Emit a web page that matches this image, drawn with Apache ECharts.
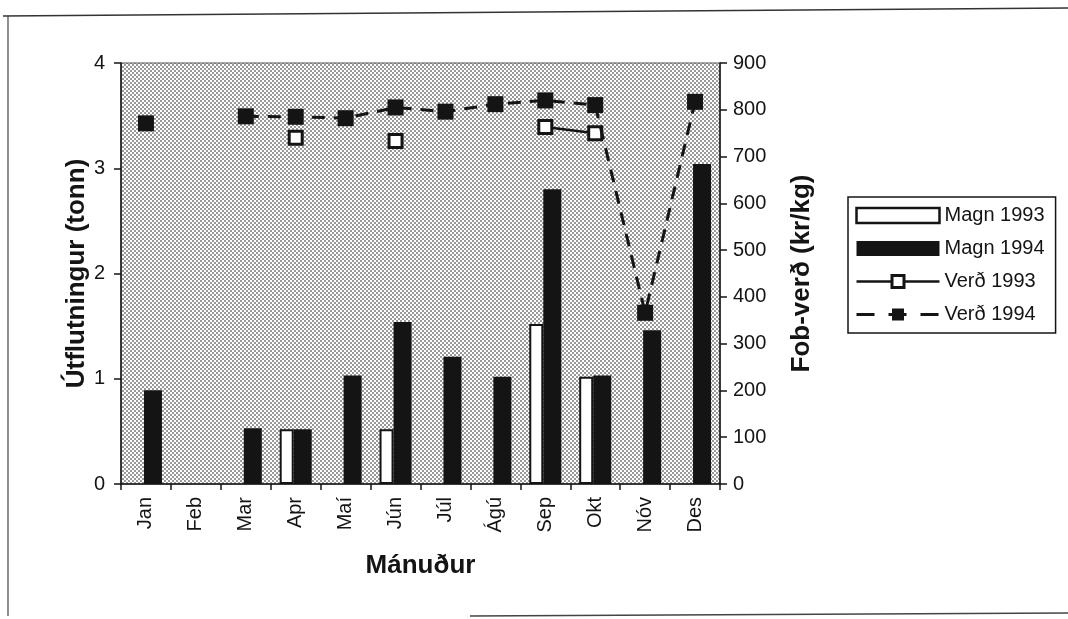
<!DOCTYPE html>
<html><head><meta charset="utf-8">
<script src="https://cdn.jsdelivr.net/npm/echarts@6/dist/echarts.min.js"></script>
<style>html,body{margin:0;padding:0;background:#fff}#c{width:1068px;height:619px}</style>
</head><body><div id="c"></div>
<script>
// ---- data ----
const months   = ['Jan','Feb','Mar','Apr','Maí','Jún','Júl','Ágú','Sep','Okt','Nóv','Des'];
const magn1993 = [null, null, null, 0.52, null, 0.52, null, null, 1.52, 1.02, null, null];   // tonn
const magn1994 = [0.89, null, 0.53, 0.52, 1.03, 1.54, 1.21, 1.02, 2.80, 1.03, 1.46, 3.04];   // tonn
const verd1993 = [null, null, null, 740, null, 733, null, null, 763, 750, null, null];       // kr/kg
const verd1994 = [771, null, 786, 785, 782, 805, 796, 812, 820, 810, 366, 817];              // kr/kg
const leftTicks  = [0, 1, 2, 3, 4];
const rightTicks = [0, 100, 200, 300, 400, 500, 600, 700, 800, 900];

const FONT = 'Liberation Sans, Arial, Helvetica, sans-serif';
const INK = '#141414';

// stipple pattern for the plot background
const pc = document.createElement('canvas');
pc.width = 4; pc.height = 4;
const px = pc.getContext('2d');
px.fillStyle = '#ffffff'; px.fillRect(0, 0, 4, 4);
px.fillStyle = '#999999';
px.fillRect(0, 0, 2, 2); px.fillRect(2, 2, 2, 2);

const nameStyle = {fontFamily: FONT, fontSize: 26, fontWeight: 'bold', color: INK};
const labelStyle = {fontFamily: FONT, fontSize: 20, color: INK};

const chart = echarts.init(document.getElementById('c'), null, {renderer: 'canvas'});
chart.setOption({
  animation: false,
  backgroundColor: '#fff',
  textStyle: {fontFamily: FONT, color: INK},
  graphic: [
    {type: 'line', shape: {x1: 3, y1: 16, x2: 1068, y2: 8}, style: {stroke: '#333', lineWidth: 1.5}, silent: true},
    {type: 'line', shape: {x1: 8, y1: 16, x2: 8, y2: 616}, style: {stroke: '#444', lineWidth: 1.2}, silent: true},
    {type: 'line', shape: {x1: 470, y1: 616, x2: 1068, y2: 613}, style: {stroke: '#444', lineWidth: 1.5}, silent: true}
  ],
  grid: {
    left: 121, right: 348, top: 63, height: 421,
    show: true,
    backgroundColor: {image: pc, repeat: 'repeat'},
    borderColor: '#555', borderWidth: 1
  },
  legend: {
    orient: 'vertical', left: 848, top: 197,
    itemWidth: 83, itemHeight: 15, itemGap: 12,
    padding: [8, 11, 8, 7],
    borderColor: INK, borderWidth: 1.5, backgroundColor: '#fff',
    textStyle: {fontFamily: FONT, fontSize: 20, color: INK, lineHeight: 21},
    data: [
      {name: 'Magn 1993', icon: 'rect', itemStyle: {borderWidth: 2.5}},
      {name: 'Magn 1994', icon: 'rect'},
      {name: 'Verð 1993', lineStyle: {width: 2.5}, itemStyle: {borderWidth: 3}},
      {name: 'Verð 1994', lineStyle: {width: 3, type: [18, 14], dashOffset: 0}}
    ]
  },
  xAxis: {
    type: 'category', data: months, boundaryGap: true,
    name: 'Mánuður', nameLocation: 'middle', nameGap: 69, nameMoveOverlap: false,
    nameTextStyle: nameStyle,
    axisLine: {show: true, lineStyle: {color: INK, width: 1.5}},
    axisTick: {show: true, alignWithLabel: false, length: 6, lineStyle: {color: INK, width: 1.5}},
    axisLabel: Object.assign({rotate: 90, margin: 13, interval: 0}, labelStyle),
    splitLine: {show: false}
  },
  yAxis: [
    {
      type: 'value', position: 'left', min: leftTicks[0], max: leftTicks[leftTicks.length - 1], interval: 1,
      name: 'Útflutningur (tonn)', nameLocation: 'middle', nameGap: 31, nameRotate: 90, nameMoveOverlap: false,
      nameTextStyle: nameStyle,
      axisLine: {show: true, lineStyle: {color: INK, width: 1.5}},
      axisTick: {show: true, length: 7, lineStyle: {color: INK, width: 1.5}},
      axisLabel: Object.assign({margin: 16}, labelStyle),
      splitLine: {show: false}
    },
    {
      type: 'value', position: 'right', min: rightTicks[0], max: rightTicks[rightTicks.length - 1], interval: 100,
      name: 'Fob-verð (kr/kg)', nameLocation: 'middle', nameGap: 69, nameRotate: 90, nameMoveOverlap: false,
      nameTextStyle: nameStyle,
      axisLine: {show: true, lineStyle: {color: INK, width: 1.5}},
      axisTick: {show: true, length: 7, lineStyle: {color: INK, width: 1.5}},
      axisLabel: Object.assign({margin: 13}, labelStyle),
      splitLine: {show: false}
    }
  ],
  series: [
    {
      name: 'Magn 1993', type: 'bar', yAxisIndex: 0, data: magn1993,
      barWidth: 14, barGap: '0%',
      itemStyle: {color: '#ffffff', borderColor: INK, borderWidth: 2}
    },
    {
      name: 'Magn 1994', type: 'bar', yAxisIndex: 0, data: magn1994,
      barWidth: 18, barGap: '0%',
      itemStyle: {color: INK}
    },
    {
      name: 'Verð 1993', type: 'line', yAxisIndex: 1, data: verd1993, z: 5,
      connectNulls: false, showAllSymbol: true,
      symbol: 'rect', symbolSize: 13,
      lineStyle: {color: INK, width: 2.5, type: 'solid'},
      itemStyle: {color: '#ffffff', borderColor: INK, borderWidth: 3}
    },
    {
      name: 'Verð 1994', type: 'line', yAxisIndex: 1, data: verd1994, z: 6,
      connectNulls: false, showAllSymbol: true,
      symbol: 'rect', symbolSize: 16,
      lineStyle: {color: INK, width: 3, type: [13, 9]},
      itemStyle: {color: INK, borderWidth: 0}
    }
  ]
});
</script>
</body></html>
